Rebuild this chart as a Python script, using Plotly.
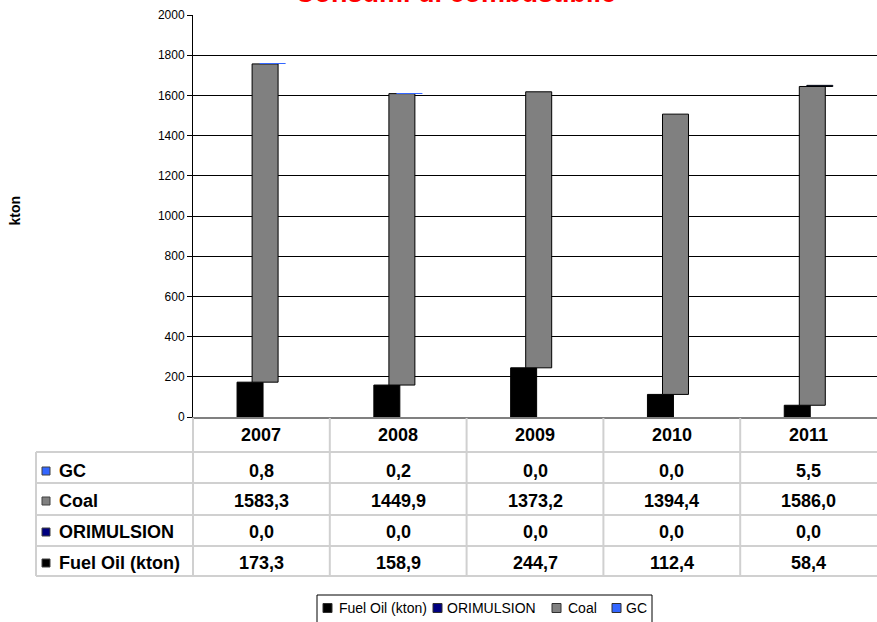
import numpy as np
import plotly.graph_objects as go

years = ["2007", "2008", "2009", "2010", "2011"]
fuel_oil = [173.3, 158.9, 244.7, 112.4, 58.4]
orimulsion = [0.0, 0.0, 0.0, 0.0, 0.0]
coal = [1583.3, 1449.9, 1373.2, 1394.4, 1586.0]
gc = [0.8, 0.2, 0.0, 0.0, 5.5]

series_names = ["Fuel Oil (kton)", "ORIMULSION", "Coal", "GC"]
series_colors = ["#000000", "#000080", "#808080", "#3366FF"]
y_ticks = [0, 200, 400, 600, 800, 1000, 1200, 1400, 1600, 1800, 2000]

W, H = 877, 622
L, T, B_PX = 193, 15, 417
PW = W - L
PH = B_PX - T

def pxx(x):
    return (x - L) / PW

def pxy(y):
    return (B_PX - y) / PH

values = [fuel_oil, orimulsion, coal, gc]
bases = np.cumsum([np.zeros(len(years))] + [np.array(v) for v in values[:-1]], axis=0)
bar_w = 0.19
offsets = [-0.178, -0.123, -0.068, -0.013]

fig = go.Figure()
for name, col, vals, base, off in zip(series_names, series_colors, values, bases, offsets):
    # bars too thin to be seen (below ~1 kton) get no outline
    lw = [1 if v >= 1 else 0 for v in vals]
    fig.add_trace(go.Bar(
        x=list(range(len(years))), y=vals, base=list(base), name=name,
        width=bar_w, offset=off, showlegend=False,
        marker=dict(color=col, line=dict(color="#000000", width=lw)),
    ))

fig.update_layout(
    width=W, height=H,
    margin=dict(l=L, r=0, t=T, b=H - B_PX, autoexpand=False),
    plot_bgcolor="white", paper_bgcolor="white",
    barmode="overlay",
    font=dict(family="Arial, Liberation Sans", color="black"),
    xaxis=dict(range=[-0.5, len(years) - 0.5], showticklabels=False, ticks="",
               showgrid=False, zeroline=False, showline=True,
               linecolor="#808080", linewidth=2),
    yaxis=dict(range=[0, 2000], tickvals=y_ticks, ticks="outside", ticklen=5,
               tickcolor="black", showline=True, linecolor="black", linewidth=1,
               showgrid=True, gridcolor="black", gridwidth=1, zeroline=False,
               tickfont=dict(size=12, family="Arial, Liberation Sans")),
    showlegend=False,
)

ann = []
# title (partially cut off at top)
ann.append(dict(text="<b>Consumi di combustibile</b>", xref="paper", yref="paper",
                x=pxx(455), y=pxy(-7), xanchor="center", yanchor="middle", showarrow=False,
                font=dict(size=27, color="#FF0000", family="Arial, Liberation Sans")))
# y axis title
ann.append(dict(text="<b>kton</b>", xref="paper", yref="paper", x=pxx(14.5), y=pxy(211),
                xanchor="center", yanchor="middle", textangle=-90, showarrow=False,
                font=dict(size=14)))

tf = dict(size=18, family="Arial, Liberation Sans", color="black")
# header years
for i, yr in enumerate(years):
    ann.append(dict(text=f"<b>{yr}</b>", xref="x", yref="paper", x=i, y=pxy(435),
                    xanchor="center", yanchor="middle", showarrow=False, font=tf))

rows = [("GC", gc, "#3366FF"), ("Coal", coal, "#808080"),
        ("ORIMULSION", orimulsion, "#000080"), ("Fuel Oil (kton)", fuel_oil, "#000000")]
row_centers = [471, 501, 532, 563]
shapes = []
for (lab, vals, col), yc in zip(rows, row_centers):
    ann.append(dict(text=f"<b>{lab}</b>", xref="paper", yref="paper", x=pxx(57), y=pxy(yc),
                    xanchor="left", yanchor="middle", showarrow=False, font=tf))
    shapes.append(dict(type="rect", xref="paper", yref="paper",
                       x0=pxx(42), x1=pxx(50), y0=pxy(yc - 4), y1=pxy(yc + 4),
                       fillcolor=col, line=dict(color="#404040", width=1)))
    for i, v in enumerate(vals):
        ann.append(dict(text="<b>" + f"{v:.1f}".replace(".", ",") + "</b>", xref="x", yref="paper",
                        x=i, y=pxy(yc), xanchor="center", yanchor="middle", showarrow=False, font=tf))

grid_col = "#d0d0d0"
for yl in [452, 483, 515, 546, 576]:
    shapes.append(dict(type="line", xref="paper", yref="paper", x0=pxx(36), x1=pxx(885),
                       y0=pxy(yl), y1=pxy(yl), line=dict(color=grid_col, width=2)))
shapes.append(dict(type="line", xref="paper", yref="paper", x0=pxx(36), x1=pxx(36),
                   y0=pxy(452), y1=pxy(576), line=dict(color=grid_col, width=2)))
shapes.append(dict(type="line", xref="paper", yref="paper", x0=0, x1=0,
                   y0=pxy(418), y1=pxy(576), line=dict(color=grid_col, width=2)))
for i in range(len(years) - 1):
    shapes.append(dict(type="line", xref="x", yref="paper", x0=i + 0.5, x1=i + 0.5,
                       y0=pxy(418), y1=pxy(576), line=dict(color=grid_col, width=2)))

# legend box (drawn like the reference: square keys followed by names)
shapes.append(dict(type="rect", xref="paper", yref="paper", x0=pxx(317), x1=pxx(652),
                   y0=pxy(595), y1=pxy(630), fillcolor="white",
                   line=dict(color="black", width=1)))
legend_sq_x = [323, 433, 552, 612]
legend_txt_x = [337, 445, 566, 624]
ly = 608
for k in range(len(series_names)):
    shapes.append(dict(type="rect", xref="paper", yref="paper",
                       x0=pxx(legend_sq_x[k]), x1=pxx(legend_sq_x[k] + 9),
                       y0=pxy(ly - 4.5), y1=pxy(ly + 4.5),
                       fillcolor=series_colors[k], line=dict(color="#303030", width=1)))
    ann.append(dict(text=series_names[k], xref="paper", yref="paper",
                    x=pxx(legend_txt_x[k]), y=pxy(ly), xanchor="left", yanchor="middle",
                    showarrow=False,
                    font=dict(size=14, family="Arial, Liberation Sans", color="black")))

fig.update_layout(annotations=ann, shapes=shapes)
fig.write_html("out.html")
